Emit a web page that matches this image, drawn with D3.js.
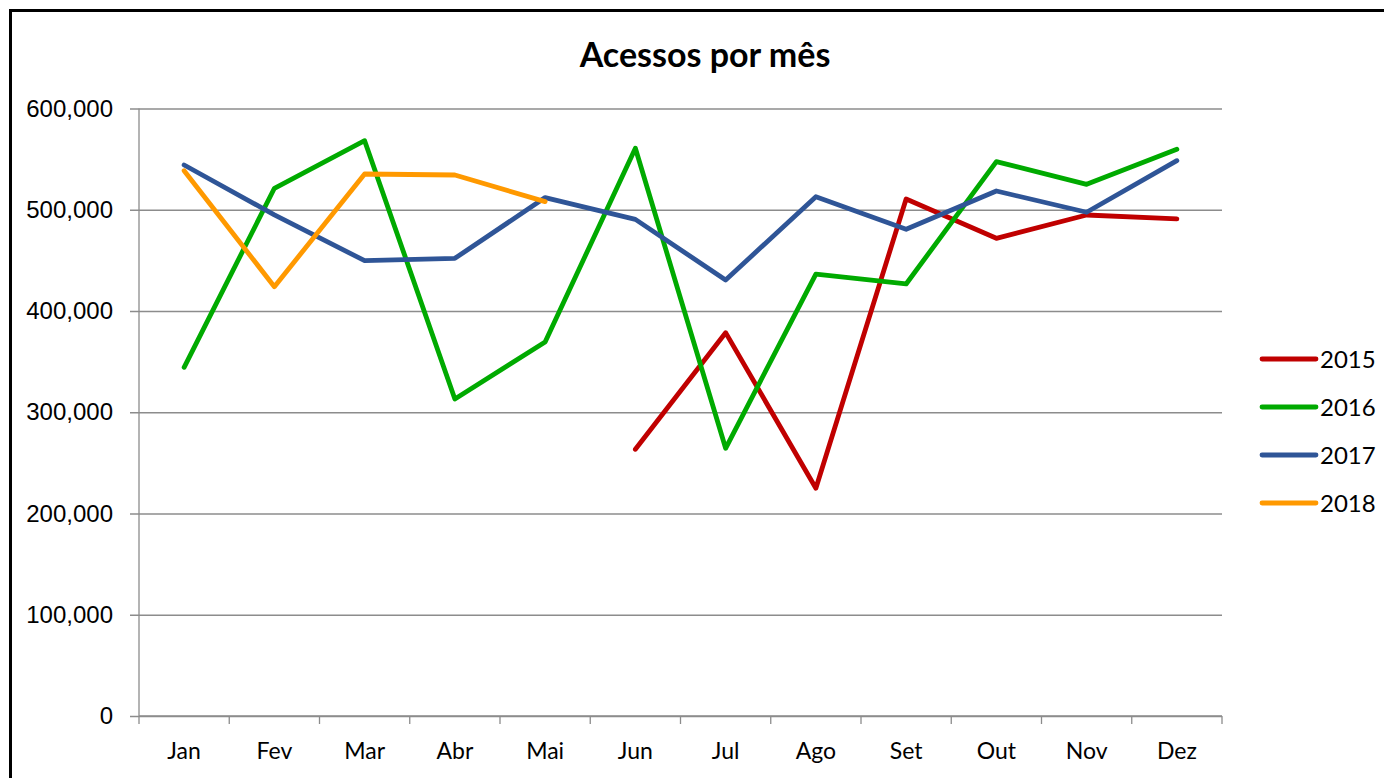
<!DOCTYPE html>
<html>
<head>
<meta charset="utf-8">
<script src="https://cdn.jsdelivr.net/npm/d3@7"></script>
<style>
  body { margin: 0; background: #fff; }
  svg { display: block; font-family: Lato, "Open Sans", sans-serif; }
</style>
</head>
<body>
<div id="chart"></div>
<script>
// Data
const months = ['Jan', 'Fev', 'Mar', 'Abr', 'Mai', 'Jun', 'Jul', 'Ago', 'Set', 'Out', 'Nov', 'Dez'];
const years = ['2015', '2016', '2017', '2018'];
const values2015 = [null, null, null, null, null, 263400, 378600, 224900, 510600, 471800, 494800, 490900];
const values2016 = [344400, 521200, 568200, 313100, 369400, 560700, 264400, 436500, 426700, 547500, 525100, 559700];
const values2017 = [544200, 495000, 449700, 452000, 512000, 490500, 430600, 512900, 480700, 518500, 497500, 548500];
const values2018 = [538600, 424000, 535300, 534300, 508000, null, null, null, null, null, null, null];
const yTicks = [0, 100000, 200000, 300000, 400000, 500000, 600000];
const colors = ['#C00000', '#00AA00', '#2F5597', '#FF9900'];

const seriesValues = [values2015, values2016, values2017, values2018];
const series = years.map((y, i) => ({ name: y, color: colors[i], values: seriesValues[i] }));

const width = 1384, height = 778;
const margin = { top: 108.5, left: 139, right: 162, bottom: 62 };

const svg = d3.select('#chart').append('svg')
    .attr('width', width)
    .attr('height', height);

// outer border (chart area frame)
svg.append('rect')
    .attr('x', 10.5).attr('y', 10.5)
    .attr('width', width + 20).attr('height', height + 20)
    .attr('fill', 'none')
    .attr('stroke', '#000')
    .attr('stroke-width', 3);

const x = d3.scaleBand()
    .domain(months)
    .range([margin.left, width - margin.right]);

const y = d3.scaleLinear()
    .domain([0, 600000])
    .range([height - margin.bottom, margin.top]);

// title
svg.append('text')
    .attr('x', 705).attr('y', 67)
    .attr('text-anchor', 'middle')
    .attr('font-size', 34)
    .attr('font-weight', 'bold')
    .text('Acessos por mês');

// y axis with gridlines
const yAxis = d3.axisLeft(y)
    .tickValues(yTicks)
    .tickSize(-(width - margin.right - margin.left))
    .tickPadding(26)
    .tickFormat(d3.format(','));

const yG = svg.append('g')
    .attr('transform', `translate(${margin.left},0)`)
    .call(yAxis);
yG.select('.domain').remove();
yG.selectAll('.tick line')
    .attr('x1', -9)
    .attr('stroke', '#8c8c8c')
    .attr('stroke-width', 1.3);
yG.selectAll('.tick text')
    .attr('font-size', 24)
    .attr('fill', '#000');

// vertical y axis line
svg.append('line')
    .attr('x1', margin.left).attr('x2', margin.left)
    .attr('y1', y(600000)).attr('y2', y(0))
    .attr('stroke', '#8c8c8c').attr('stroke-width', 1.3);

// x axis: ticks at category boundaries
const xG = svg.append('g')
    .attr('transform', `translate(0,${y(0)})`);
xG.append('line')
    .attr('x1', margin.left).attr('x2', width - margin.right)
    .attr('stroke', '#8c8c8c').attr('stroke-width', 1.3);
const bounds = months.map(m => x(m)).concat([x.range()[1]]);
xG.selectAll('.xtick')
    .data(bounds)
    .join('line')
    .attr('class', 'xtick')
    .attr('x1', d => d).attr('x2', d => d)
    .attr('y1', 0).attr('y2', 8)
    .attr('stroke', '#8c8c8c').attr('stroke-width', 1.3);
xG.selectAll('.xlabel')
    .data(months)
    .join('text')
    .attr('class', 'xlabel')
    .attr('x', d => x(d) + x.bandwidth() / 2)
    .attr('y', 43)
    .attr('text-anchor', 'middle')
    .attr('font-size', 23)
    .text(d => d);

// lines
const line = d3.line()
    .defined(d => d != null)
    .x((d, i) => x(months[i]) + x.bandwidth() / 2)
    .y(d => y(d));

svg.selectAll('.series')
    .data(series)
    .join('path')
    .attr('class', 'series')
    .attr('d', d => line(d.values))
    .attr('fill', 'none')
    .attr('stroke', d => d.color)
    .attr('stroke-width', 4.8)
    .attr('stroke-linejoin', 'round')
    .attr('stroke-linecap', 'round');

// legend
const legend = svg.append('g')
    .attr('transform', 'translate(1262,359)');
const items = legend.selectAll('g')
    .data(series)
    .join('g')
    .attr('transform', (d, i) => `translate(0,${i * 48})`);
items.append('line')
    .attr('x1', 0).attr('x2', 54)
    .attr('stroke', d => d.color)
    .attr('stroke-width', 4.8)
    .attr('stroke-linecap', 'round');
items.append('text')
    .attr('x', 58).attr('y', 8.5)
    .attr('font-size', 24)
    .text(d => d.name);
</script>
</body>
</html>
